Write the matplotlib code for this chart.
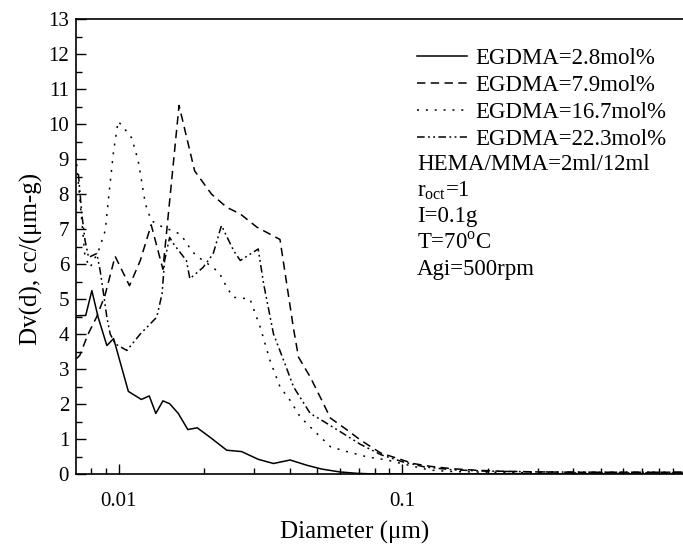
import matplotlib
matplotlib.use("Agg")
import matplotlib.pyplot as plt
from matplotlib.ticker import LogLocator, FixedLocator, MultipleLocator, NullFormatter

plt.rcParams["font.family"] = ["Liberation Serif", "DejaVu Serif"]
plt.rcParams["mathtext.fontset"] = "custom"
plt.rcParams["mathtext.rm"] = "Liberation Serif"

# pore size distributions (diameter in um, Dv(d))
x_28 = [0.00709, 0.00764, 0.00803, 0.00845, 0.00907, 0.00958, 0.0108, 0.0120, 0.0128,
        0.0135, 0.0143, 0.0151, 0.0162, 0.0175, 0.0189, 0.0212, 0.0240, 0.0271, 0.0310,
        0.0351, 0.0402, 0.0460, 0.0520, 0.0600, 0.0690, 0.080, 0.10, 0.15, 0.2, 0.3, 0.5, 1.0]
y_28 = [4.52, 4.53, 5.24, 4.48, 3.67, 3.87, 2.36, 2.13, 2.23,
        1.73, 2.09, 2.01, 1.73, 1.27, 1.32, 1.02, 0.68, 0.64, 0.42,
        0.30, 0.40, 0.25, 0.14, 0.06, 0.02, 0.0, 0.0, 0.0, 0.0, 0.0, 0.0, 0.0]

x_79 = [0.00710, 0.00728, 0.00779, 0.00834, 0.00893, 0.0097, 0.0109, 0.0119, 0.0130,
        0.0143, 0.0163, 0.0185, 0.0212, 0.0240, 0.0268, 0.0307, 0.0370, 0.0413,
        0.0430, 0.0473, 0.0520, 0.0557, 0.0640, 0.0711, 0.0838, 0.100, 0.109, 0.125,
        0.150, 0.180, 0.220, 0.300, 0.400, 0.600, 1.0]
y_79 = [3.30, 3.39, 4.00, 4.48, 5.10, 6.22, 5.38, 6.10, 7.12,
        5.85, 10.53, 8.66, 8.00, 7.62, 7.43, 7.05, 6.70, 4.15,
        3.34, 2.77, 2.10, 1.60, 1.25, 0.97, 0.60, 0.40, 0.30, 0.22,
        0.15, 0.11, 0.08, 0.06, 0.05, 0.05, 0.05]

x_167 = [0.00710, 0.00760, 0.00792, 0.00848, 0.00895, 0.00920, 0.00958, 0.00994, 0.0105,
         0.0111, 0.0117, 0.0124, 0.0130, 0.0140, 0.0164, 0.0173, 0.0180, 0.0191, 0.0215,
         0.0227, 0.0240, 0.0253, 0.0290, 0.0315, 0.0341, 0.0370, 0.0402, 0.0436, 0.0486,
         0.0557, 0.0637, 0.0750, 0.0882, 0.104, 0.125, 0.150, 0.200, 0.300, 0.500, 1.0]
y_167 = [8.85, 6.19, 5.90, 6.38, 6.95, 7.90, 9.23, 10.08, 9.85,
         9.60, 8.95, 7.72, 7.24, 7.09, 6.86, 6.62, 6.38, 6.19, 5.90,
         5.72, 5.34, 5.05, 5.00, 4.20, 3.25, 2.49, 2.10, 1.63, 1.25,
         0.78, 0.64, 0.49, 0.40, 0.26, 0.11, 0.07, 0.05, 0.03, 0.03, 0.03]

x_223 = [0.00720, 0.00740, 0.00760, 0.00782, 0.00836, 0.00859, 0.00883, 0.00907, 0.00932,
         0.00970, 0.01067, 0.0119, 0.0136, 0.0142, 0.0145, 0.0151, 0.0156, 0.0173, 0.0178,
         0.0198, 0.0215, 0.0230, 0.0254, 0.0268, 0.0310, 0.0324, 0.0351, 0.0381, 0.0413,
         0.0473, 0.0528, 0.0620, 0.0710, 0.0840, 0.100, 0.120, 0.150, 0.200, 0.300, 0.500, 1.0]
y_223 = [8.57, 7.43, 6.67, 6.19, 6.30, 5.81, 5.15, 4.48, 4.00,
         3.72, 3.53, 4.00, 4.48, 5.15, 6.10, 6.76, 6.57, 6.10, 5.58,
         5.90, 6.29, 7.10, 6.38, 6.10, 6.43, 5.43, 4.00, 3.25, 2.49,
         1.73, 1.50, 1.15, 0.85, 0.55, 0.35, 0.20, 0.12, 0.08, 0.06, 0.05, 0.05]

series = [
    (x_28, y_28, "EGDMA=2.8mol%", "-"),
    (x_79, y_79, "EGDMA=7.9mol%", (0, (5.5, 3.5))),
    (x_167, y_167, "EGDMA=16.7mol%", (0, (1.3, 4.5))),
    (x_223, y_223, "EGDMA=22.3mol%", (0, (5, 2.2, 1.2, 2.2, 1.2, 2.2))),
]

notes = ["HEMA/MMA=2ml/12ml", r"r$_\mathrm{oct}$=1", "I=0.1g",
         r"T=70$^\mathrm{o}$C", "Agi=500rpm"]

fig = plt.figure(figsize=(6.83, 5.46), dpi=100)
ax = fig.add_axes([76 / 683, 1 - 474 / 546, 610 / 683, 455 / 546])

for x, y, lab, ls in series:
    ax.plot(x, y, color="black", lw=1.1, ls=ls, label=lab)

ax.set_xscale("log")
ax.set_xlim(0.00706, 1.0)
ax.set_ylim(0, 13)
ax.xaxis.set_major_locator(FixedLocator([0.01, 0.1]))
ax.xaxis.set_major_formatter(matplotlib.ticker.FixedFormatter(["0.01", "0.1"]))
ax.xaxis.set_minor_locator(LogLocator(base=10, subs=range(2, 10)))
ax.xaxis.set_minor_formatter(NullFormatter())
ax.yaxis.set_major_locator(MultipleLocator(1))
ax.yaxis.set_minor_locator(MultipleLocator(0.5))

ax.tick_params(which="both", direction="in", top=False, right=False, labelsize=15)
ax.tick_params(which="major", length=7, width=1)
ax.tick_params(which="minor", length=4, width=1)
ax.tick_params(axis="x", pad=13)
ax.tick_params(axis="y", pad=5)
for s in ax.spines.values():
    s.set_linewidth(1.2)

ax.set_xlabel("Diameter (\u03bcm)", fontsize=18)
ax.xaxis.set_label_coords(0.457, -0.103)
ax.set_ylabel("Dv(d), cc/(\u03bcm-g)", fontsize=18)
ax.yaxis.set_label_coords(-0.054, 0.472)

ax.legend(loc="upper left", bbox_to_anchor=(417 / 683, 1 - 48 / 546),
          bbox_transform=fig.transFigure, frameon=False, fontsize=16.5,
          handlelength=2.2, handletextpad=0.35, labelspacing=0.26,
          borderpad=0, borderaxespad=0)

for i, t in enumerate(notes):
    fig.text(417 / 683, 1 - (164 + 26.3 * i) / 546, t, fontsize=16.5,
             ha="left", va="center")

fig.savefig("out.png", dpi=100)
